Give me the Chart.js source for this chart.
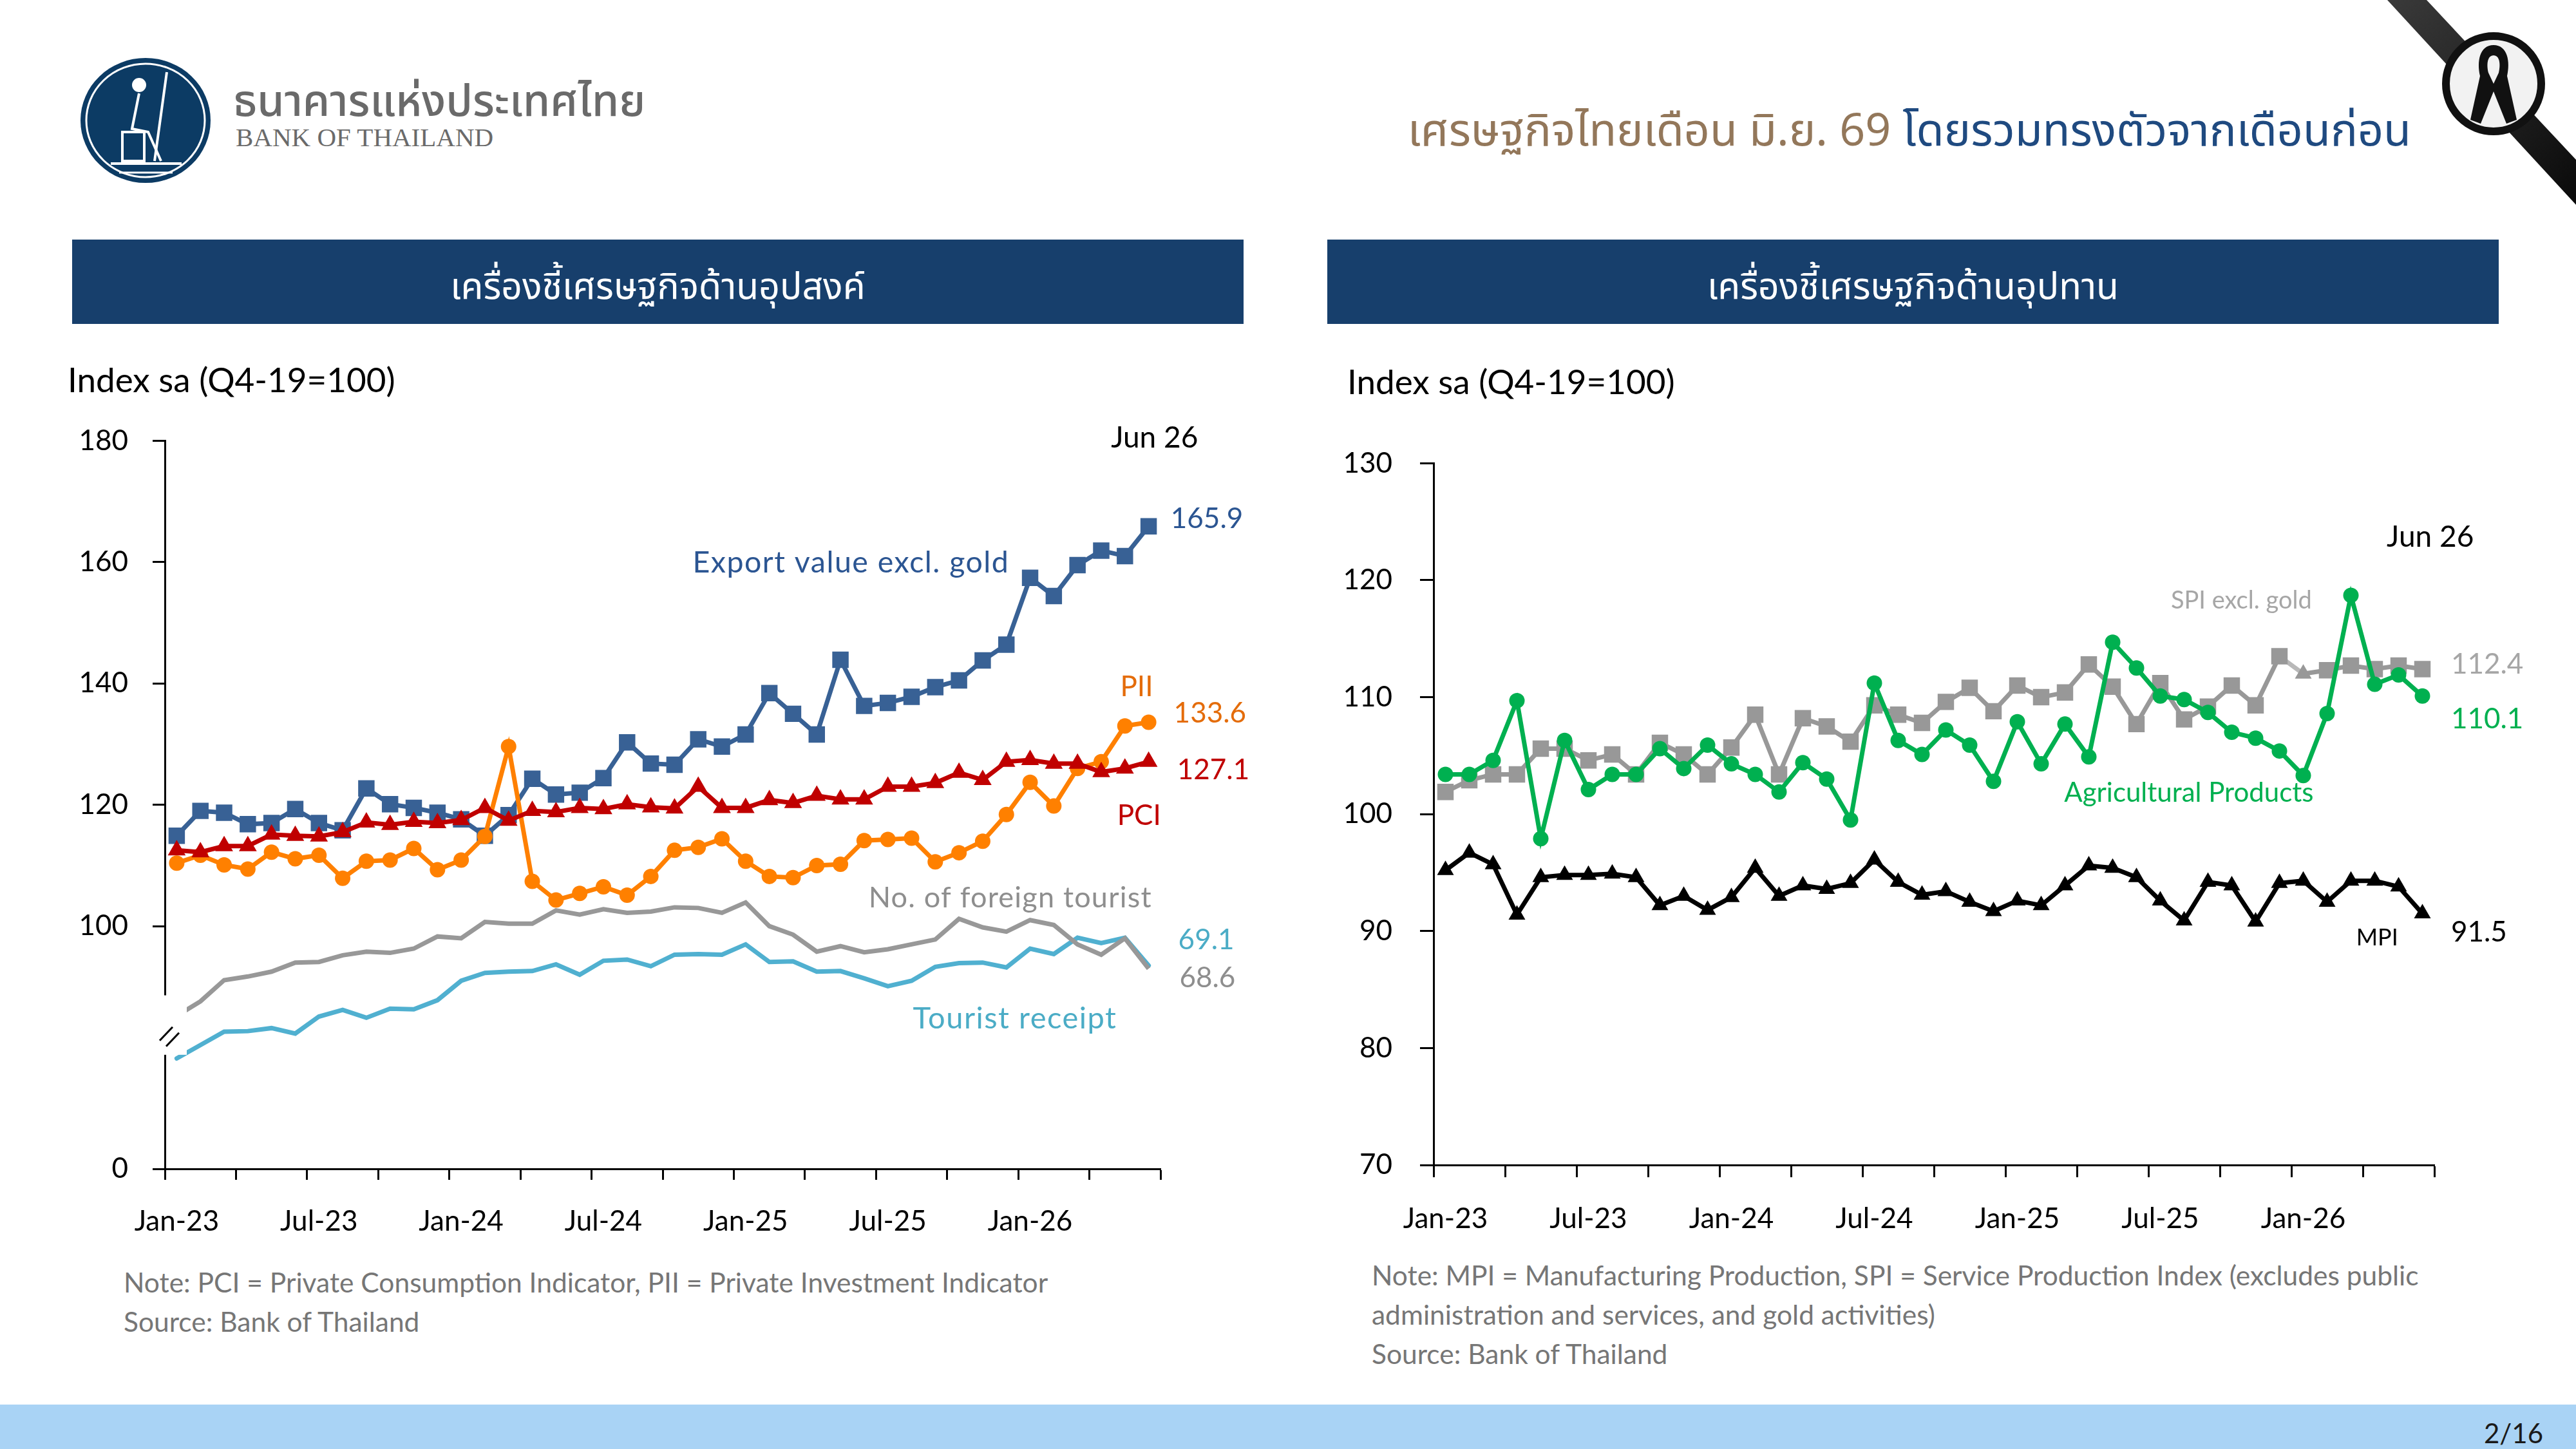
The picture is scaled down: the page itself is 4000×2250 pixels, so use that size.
<!DOCTYPE html>
<html>
<head>
<meta charset="utf-8">
<script src="https://cdn.jsdelivr.net/npm/chart.js@4.4.1/dist/chart.umd.min.js"></script>
<style>
  html, body { margin: 0; padding: 0; background: #fff; }
  #page { position: relative; width: 4000px; height: 2250px; overflow: hidden; background: #fff;
          font-family: Lato, "Noto Sans Thai", "Noto Sans", sans-serif; }
  .t { position: absolute; white-space: nowrap; line-height: 1; }
  .thai { font-family: "Noto Sans Thai", "Noto Sans", Lato, sans-serif; }
  .panel { position: absolute; background: #173f6c; color: #fff; text-align: center; }
  canvas { position: absolute; }
</style>
</head>
<body>
<div id="page">
  <svg width="4000" height="320" style="position:absolute;left:0;top:0">
    <!-- logo -->
    <ellipse cx="226" cy="187" rx="101" ry="97" fill="#0c3b64"/>
    <ellipse cx="226" cy="187" rx="92" ry="88" fill="none" stroke="#fff" stroke-width="3"/>
    <g fill="none" stroke="#fff" stroke-width="4">
      <line x1="259" y1="112" x2="240" y2="250"/>
      <circle cx="216" cy="132" r="9" fill="#fff"/>
      <path d="M216 145 L205 200 L230 205 L250 250"/>
      <rect x="190" y="205" width="34" height="45"/>
      <line x1="172" y1="254" x2="282" y2="254"/>
      <line x1="185" y1="268" x2="268" y2="268" stroke-width="3"/>
    </g>
    <!-- mourning band -->
    <defs>
      <linearGradient id="band" x1="0" y1="0" x2="1" y2="1">
        <stop offset="0" stop-color="#3a3a3a"/><stop offset="1" stop-color="#0a0a0a"/>
      </linearGradient>
    </defs>
    <polygon points="3707,0 3768,0 4000,248 4000,318" fill="url(#band)"/>
    <circle cx="3872" cy="130" r="74" fill="#f2f2f2" stroke="#111" stroke-width="12"/>
    <path fill="#111" fill-rule="evenodd"
      d="M3872 70 C3850 70 3846 96 3851 118 L3836 186 L3852 192 L3872 142 L3892 192 L3908 186 L3893 118 C3898 96 3894 70 3872 70 Z
         M3872 86 C3862 86 3861 101 3864 113 L3872 130 L3880 113 C3883 101 3882 86 3872 86 Z"/>
  </svg>

  <div class="t thai" style="left:362px;top:126px;font-size:68px;color:#6a6a6a;font-weight:500">ธนาคารแห่งประเทศไทย</div>
  <div class="t" style="left:366px;top:193px;font-size:41px;color:#6a6a6a;font-family:'Liberation Serif',serif">BANK OF THAILAND</div>

  <div class="t thai" style="right:256px;top:170px;font-size:70px">
    <span style="color:#93775a">เศรษฐกิจไทยเดือน มิ.ย. 69</span>
    <span style="color:#1f4a80">โดยรวมทรงตัวจากเดือนก่อน</span>
  </div>

  <div class="panel thai" style="left:112px;top:372px;width:1819px;height:131px;line-height:151px;font-size:57px">เครื่องชี้เศรษฐกิจด้านอุปสงค์</div>
  <div class="panel thai" style="left:2061px;top:372px;width:1819px;height:131px;line-height:151px;font-size:57px">เครื่องชี้เศรษฐกิจด้านอุปทาน</div>

  <div class="t" style="left:105px;top:562px;font-size:53px;color:#000">Index sa (Q4-19=100)</div>
  <div class="t" style="left:2092px;top:565px;font-size:53px;color:#000">Index sa (Q4-19=100)</div>

  <canvas id="leftChart" width="1900" height="1320" style="left:100px;top:620px"></canvas>
  <canvas id="rightChart" width="1950" height="1300" style="left:2050px;top:650px"></canvas>

  <div class="t" style="left:192px;top:1970px;font-size:42.5px;color:#767676">Note: PCI = Private Consumption Indicator, PII = Private Investment Indicator</div>
  <div class="t" style="left:192px;top:2031px;font-size:42.5px;color:#767676">Source: Bank of Thailand</div>

  <div class="t" style="left:2130px;top:1959px;font-size:42.5px;color:#767676">Note: MPI = Manufacturing Production, SPI = Service Production Index (excludes public</div>
  <div class="t" style="left:2130px;top:2020px;font-size:42.5px;color:#767676">administration and services, and gold activities)</div>
  <div class="t" style="left:2130px;top:2081px;font-size:42.5px;color:#767676">Source: Bank of Thailand</div>

  <div style="position:absolute;left:0;top:2181px;width:4000px;height:69px;background:#a9d3f5"></div>
  <div class="t" style="right:51px;top:2204px;font-size:42px;color:#1a1a1a">2/16</div>
</div>

<script>
// months Jan-23 .. Jun-26
const months = [
  'Jan-23','Feb-23','Mar-23','Apr-23','May-23','Jun-23','Jul-23','Aug-23','Sep-23','Oct-23','Nov-23','Dec-23',
  'Jan-24','Feb-24','Mar-24','Apr-24','May-24','Jun-24','Jul-24','Aug-24','Sep-24','Oct-24','Nov-24','Dec-24',
  'Jan-25','Feb-25','Mar-25','Apr-25','May-25','Jun-25','Jul-25','Aug-25','Sep-25','Oct-25','Nov-25','Dec-25',
  'Jan-26','Feb-26','Mar-26','Apr-26','May-26','Jun-26'
];

// demand side
const exportVals = [114.9,119.0,118.7,116.8,117.0,119.3,117.0,115.8,122.7,120.1,119.5,118.7,117.6,114.9,118.3,124.3,121.7,122.0,124.4,130.3,126.8,126.6,130.8,129.6,131.6,138.4,135.0,131.6,143.9,136.3,136.8,137.8,139.4,140.5,143.8,146.4,157.4,154.4,159.5,161.9,161.0,165.9];
const pciVals = [112.5,112.2,113.2,113.2,115.1,114.9,114.8,115.5,117.1,116.7,117.2,117.0,117.5,119.5,117.4,119.0,118.8,119.5,119.3,120.1,119.6,119.4,123.0,119.5,119.5,120.8,120.3,121.5,120.9,120.9,123.0,123.0,123.6,125.3,124.1,127.1,127.4,126.8,126.8,125.4,126.0,127.1];
const piiVals = [110.4,111.7,110.1,109.4,112.2,111.1,111.7,107.9,110.7,110.9,112.8,109.3,110.9,114.8,129.6,107.4,104.3,105.4,106.5,105.1,108.2,112.5,113.0,114.4,110.7,108.2,108.0,110.0,110.2,114.1,114.3,114.5,110.6,112.1,114.0,118.4,123.7,119.8,126.0,127.1,133.0,133.6];
// tourism, drawn on its own (hidden) axis
const touristVals = [60.8,63.2,66.7,67.3,68.1,69.6,69.7,70.8,71.4,71.2,71.9,73.9,73.6,76.3,76.0,76.0,78.2,77.5,78.4,77.8,78.0,78.7,78.6,77.8,79.5,75.6,74.2,71.4,72.3,71.3,71.8,72.6,73.4,76.8,75.4,74.7,76.6,75.8,72.6,70.9,73.6,68.6];
const receiptVals = [53.8,56.0,58.2,58.3,58.8,57.9,60.7,61.8,60.5,62.0,61.9,63.4,66.6,67.9,68.1,68.2,69.3,67.6,69.9,70.1,69.0,70.9,71.0,70.9,72.6,69.7,69.8,68.1,68.2,67.0,65.7,66.6,68.9,69.5,69.6,68.8,71.9,71.0,73.7,72.8,73.7,69.1];

// supply side
const agriVals = [103.4,103.4,104.6,109.7,97.9,106.3,102.1,103.4,103.4,105.6,103.9,105.9,104.3,103.4,101.9,104.4,103.0,99.5,111.2,106.3,105.1,107.2,105.9,102.8,107.9,104.3,107.7,104.9,114.7,112.5,110.1,109.8,108.7,107.0,106.5,105.4,103.3,108.6,118.7,111.1,111.9,110.1];
const spiVals = [101.9,102.9,103.4,103.4,105.6,105.6,104.6,105.1,103.4,106.1,105.1,103.4,105.7,108.5,103.4,108.2,107.5,106.2,109.3,108.5,107.8,109.6,110.8,108.8,111.0,110.0,110.4,112.8,110.9,107.7,111.2,108.1,109.2,111.0,109.3,113.5,112.0,112.3,112.7,112.4,112.7,112.4];
const mpiVals = [95.2,96.7,95.7,91.4,94.6,94.8,94.8,94.9,94.6,92.2,93.0,91.8,92.9,95.4,93.0,93.9,93.6,94.1,96.1,94.2,93.1,93.4,92.5,91.7,92.6,92.2,93.9,95.6,95.4,94.6,92.6,90.9,94.2,93.9,90.8,94.1,94.3,92.5,94.3,94.3,93.8,91.5];

// left axis runs 60..180, the bottom tick is shown as 0 (broken axis)
const leftYTicks = ['0', '', '100', '120', '140', '160', '180'];
const rightYTicks = ['70', '80', '90', '100', '110', '120', '130'];

const FONT = 'Lato, "Noto Sans", sans-serif';
Chart.defaults.font.family = FONT;
Chart.defaults.color = '#000';

const last = a => a[a.length - 1].toFixed(1);

function notesPlugin(items) {
  return {
    id: 'notes',
    afterDatasetsDraw(chart) {
      const { ctx, scales } = chart;
      items.forEach(it => {
        ctx.save();
        ctx.font = it.size + 'px ' + FONT;
        ctx.letterSpacing = (it.spacing || 0) + 'px';
        ctx.fillStyle = it.color;
        ctx.textAlign = it.align || 'left';
        ctx.textBaseline = 'middle';
        ctx.fillText(it.text, scales.x.getPixelForValue(it.at), scales.y.getPixelForValue(it.value));
        ctx.restore();
      });
    }
  };
}

// white gap + "//" on the y axis
const axisBreak = {
  id: 'axisBreak',
  afterDatasetsDraw(chart) {
    const { ctx, chartArea, scales } = chart;
    const x0 = chartArea.left;
    const top = scales.y.getPixelForValue(88.6);
    const bottom = scales.y.getPixelForValue(78.8);
    ctx.save();
    ctx.fillStyle = '#fff';
    ctx.fillRect(x0 - 16, top, 50, bottom - top);
    ctx.strokeStyle = '#000';
    ctx.lineWidth = 3;
    const mid = (top + bottom) / 2;
    [[-8, 24], [2, 33]].forEach(([dx, dy]) => {
      ctx.beginPath();
      ctx.moveTo(x0 + dx, mid + dy);
      ctx.lineTo(x0 + dx + 20, mid + dy - 21);
      ctx.stroke();
    });
    ctx.restore();
  }
};

function xAxis(height, tickLen, pad) {
  return {
    type: 'category',
    offset: true,
    afterFit: s => { s.height = height; },
    border: { display: true, color: '#000', width: 3 },
    grid: {
      offset: true, drawOnChartArea: false, tickLength: tickLen, tickWidth: 3,
      tickColor: c => (c.index === undefined || c.index % 3 === 0) ? '#000' : 'rgba(0,0,0,0)'
    },
    ticks: {
      autoSkip: false, maxRotation: 0, padding: pad, font: { size: 44 }, color: '#000',
      callback: (v, i) => (i % 6 === 0 ? months[i] : '')
    }
  };
}

function line(label, data, color, style, radius, extra) {
  return Object.assign({
    label, data, borderColor: color, backgroundColor: color,
    pointBackgroundColor: color, pointBorderWidth: 0, borderWidth: 7,
    pointStyle: style, pointRadius: radius, pointHoverRadius: radius, tension: 0
  }, extra || {});
}

new Chart(document.getElementById('leftChart'), {
  type: 'line',
  data: {
    labels: months,
    datasets: [
      line('PCI', pciVals, '#c00000', 'triangle', 16),
      line('PII', piiVals, '#ff8000', 'circle', 12),
      line('Export value excl. gold', exportVals, '#386195', 'rect', 18),
      line('No. of foreign tourist', touristVals, '#989898', false, 0, { yAxisID: 'yT' }),
      line('Tourist receipt', receiptVals, '#50b0d0', false, 0, { yAxisID: 'yT', borderCapStyle: 'round' })
    ]
  },
  options: {
    responsive: false,
    animation: false,
    layout: { padding: { top: 57.6, right: 198, left: 0, bottom: 0 } },
    plugins: { legend: { display: false }, tooltip: { enabled: false } },
    scales: {
      x: xAxis(125, 17, 38),
      y: {
        min: 60, max: 180,
        afterFit: s => { s.width = 156; },
        border: { display: true, color: '#000', width: 3 },
        grid: {
          drawOnChartArea: false, tickLength: 19, tickWidth: 3,
          tickColor: c => (c.tick && c.tick.value === 80) ? 'rgba(0,0,0,0)' : '#000'
        },
        ticks: { stepSize: 20, padding: 38, font: { size: 44 }, color: '#000',
                 callback: v => leftYTicks[Math.round((v - 60) / 20)] }
      },
      yT: { display: false, min: 35.6, max: 155.6 }
    }
  },
  plugins: [axisBreak, notesPlugin([
    { text: 'Jun 26', at: 41.25, value: 180.4, color: '#000', size: 46, align: 'center' },
    { text: last(exportVals), at: 41.93, value: 167.1, color: '#2b5592', size: 44 },
    { text: 'Export value excl. gold', at: 21.76, value: 159.9, color: '#2b5592', size: 46.5, spacing: 1.5 },
    { text: 'PII', at: 39.8, value: 139.4, color: '#e46c0a', size: 44 },
    { text: last(piiVals), at: 42.06, value: 135.1, color: '#e46c0a', size: 44 },
    { text: last(pciVals), at: 42.2, value: 125.7, color: '#c00000', size: 44 },
    { text: 'PCI', at: 39.67, value: 118.2, color: '#c00000', size: 44 },
    { text: 'No. of foreign tourist', at: 41.14, value: 104.6, color: '#8e8e8e', size: 45, align: 'right', spacing: 1.2 },
    { text: last(receiptVals), at: 42.25, value: 97.7, color: '#4bacc6', size: 44 },
    { text: last(touristVals), at: 42.3, value: 91.4, color: '#8e8e8e', size: 44 },
    { text: 'Tourist receipt', at: 35.36, value: 84.7, color: '#4bacc6', size: 47, align: 'center', spacing: 1.5 }
  ])]
});

new Chart(document.getElementById('rightChart'), {
  type: 'line',
  data: {
    labels: months,
    datasets: [
      line('Agricultural Products', agriVals, '#00b050', 'circle', 12),
      line('MPI', mpiVals, '#000', 'triangle', 15),
      line('SPI excl. gold', spiVals, '#989898', 'rect', 18, {
        pointStyle: c => (c.dataIndex === 36 ? 'triangle' : 'rect'),
        pointRadius: c => (c.dataIndex === 36 ? 15 : 18),
        segment: { borderColor: c => (c.p1DataIndex === 36 ? '#b8b8b8' : undefined) }
      })
    ]
  },
  options: {
    responsive: false,
    animation: false,
    layout: { padding: { top: 60, right: 220, left: 0, bottom: 0 } },
    plugins: { legend: { display: false }, tooltip: { enabled: false } },
    scales: {
      x: xAxis(141, 19, 38),
      y: {
        min: 70, max: 130,
        afterFit: s => { s.width = 176; },
        border: { display: true, color: '#000', width: 3 },
        grid: { drawOnChartArea: false, tickLength: 21, tickWidth: 3, tickColor: '#000' },
        ticks: { stepSize: 10, padding: 43, font: { size: 44 }, color: '#000',
                 callback: v => rightYTicks[Math.round((v - 70) / 10)] }
      }
    }
  },
  plugins: [notesPlugin([
    { text: 'Jun 26', at: 41.33, value: 123.7, color: '#000', size: 46, align: 'center' },
    { text: 'SPI excl. gold', at: 33.4, value: 118.25, color: '#a6a6a6', size: 38, align: 'center' },
    { text: last(spiVals), at: 42.2, value: 112.8, color: '#a6a6a6', size: 44 },
    { text: last(agriVals), at: 42.2, value: 108.1, color: '#00b050', size: 44 },
    { text: 'Agricultural Products', at: 31.2, value: 101.8, color: '#00b050', size: 42, align: 'center' },
    { text: 'MPI', at: 39.1, value: 89.4, color: '#000', size: 36, align: 'center' },
    { text: last(mpiVals), at: 42.2, value: 89.9, color: '#000', size: 44 }
  ])]
});
</script>
</body>
</html>
